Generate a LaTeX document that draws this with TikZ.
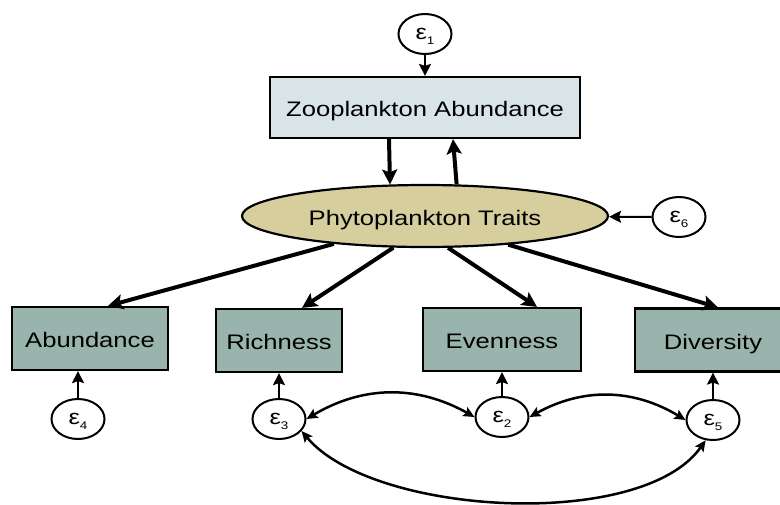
\documentclass[tikz,border=0pt]{standalone}
\usepackage{fontspec}
\setmainfont{Liberation Sans}
\usepackage{graphicx}
\usetikzlibrary{shapes.geometric,arrows.meta}
\definecolor{zoofill}{RGB}{217,228,232}
\definecolor{phytofill}{RGB}{214,206,156}
\definecolor{boxfill}{RGB}{153,180,172}
\newcommand\hsc[1]{\scalebox{1.22}[1]{#1}}
\newcommand\eps[1]{\hsc{\fontsize{21}{21}\selectfont ε\raisebox{-5pt}{\fontsize{11}{11}\selectfont #1}}}
\begin{document}
\begin{tikzpicture}[x=1pt,y=-1pt,
  lbl/.style={font=\fontsize{21}{21}\selectfont, text height=18pt, text depth=0pt},
  obs/.style={draw=black, line width=2.2pt, fill=boxfill, minimum width=#1, minimum height=63pt, inner sep=0pt, lbl},
  err/.style={draw=black, ellipse, line width=2pt, fill=white, inner sep=0pt, minimum width=53pt, minimum height=40pt, text height=10pt, text depth=0pt},
  big/.style={line width=4pt, -{Stealth[length=15pt,width=15pt,inset=3pt]}},
  thinarr/.style={line width=2pt, -{Stealth[length=12pt,width=12pt,inset=2pt]}},
  cov/.style={line width=2.5pt, {Stealth[length=11pt,width=10pt,inset=2pt]}-{Stealth[length=11pt,width=10pt,inset=2pt]}}
]
\useasboundingbox (0,0) rectangle (780,504);

\node[err] (e1) at (425,34) {\eps{1}};
\node[draw=black, line width=2.2pt, fill=zoofill, minimum width=310pt, minimum height=61pt, inner sep=0pt, lbl] (zoo) at (425,107.5) {\hsc{Zooplankton Abundance}};
\node[ellipse, draw=black, line width=2.2pt, fill=phytofill, minimum width=366pt, minimum height=62pt, inner sep=0pt, lbl] (phyto) at (425,216) {\hsc{Phytoplankton Traits}};
\node[err] (e6) at (679,217) {\eps{6}};

\node[obs=156pt] (abund) at (90,338.5) {\hsc{Abundance}};
\node[obs=126pt] (rich) at (279,340.5) {\hsc{Richness}};
\node[obs=158pt] (even) at (502,339.5) {\hsc{Evenness}};
\node[obs=156pt] (div) at (713,340) {\hsc{Diversity}};

\node[err] (e4) at (78,419) {\eps{4}};
\node[err] (e3) at (279,419) {\eps{3}};
\node[err] (e2) at (502,417) {\eps{2}};
\node[err] (e5) at (713,420) {\eps{5}};

\draw[thinarr] (e1) -- (zoo);
\draw[big] ([xshift=-36pt]zoo.south) -- (phyto.138);
\draw[big] (phyto.45.5) -- ([xshift=28pt]zoo.south);
\draw[thinarr] (e6) -- (phyto);

\draw[big] (phyto.197.9) -- ([xshift=18pt]abund.north);
\draw[big] (phyto.225.6) -- ([xshift=23pt]rich.north);
\draw[big] (phyto.306.8) -- ([xshift=35pt]even.north);
\draw[big] (phyto.341.3) -- ([xshift=5pt]div.north);

\draw[thinarr] (e4) -- (e4 |- abund.south);
\draw[thinarr] (e3) -- (rich);
\draw[thinarr] (e2) -- (even);
\draw[thinarr] (e5) -- (div);

\draw[cov] (e3.east) to[bend left=30] (e2.west);
\draw[cov] (e2.east) to[bend left=30] (e5.west);
\draw[cov] (e3.332) to[out=-50,in=235,looseness=0.7] (e5.250);
\end{tikzpicture}
\end{document}
